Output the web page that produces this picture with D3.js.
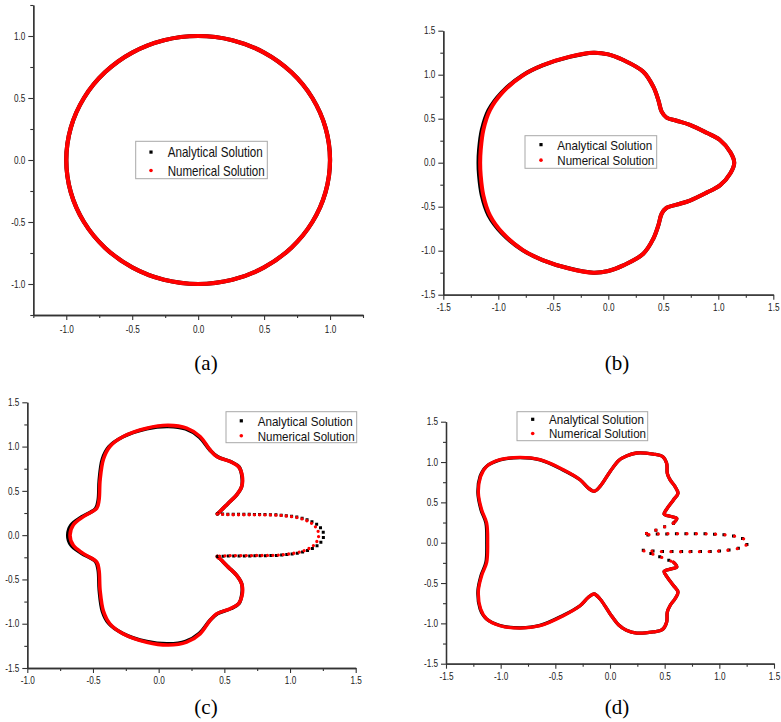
<!DOCTYPE html>
<html>
<head>
<meta charset="utf-8">
<script src="https://cdn.jsdelivr.net/npm/d3@7"></script>
<style>
  body { margin: 0; background: #fff; }
  svg { display: block; }
</style>
</head>
<body>
<svg id="fig" width="781" height="722"></svg>
<script>
// ============================================================
//  Data (x, y pairs in axis units)
// ============================================================

const seriesNames = ['Analytical Solution', 'Numerical Solution'];
const panelLabels = ['(a)', '(b)', '(c)', '(d)'];

// tick values
const ticksA = [-1.0, -0.5, 0.0, 0.5, 1.0];
const minorA = [-1.25, -0.75, -0.25, 0.25, 0.75, 1.25];
const ticksWide = [-1.5, -1.0, -0.5, 0.0, 0.5, 1.0, 1.5];
const minorWide = [-1.25, -0.75, -0.25, 0.25, 0.75, 1.25];
const ticksCx = [-1.0, -0.5, 0.0, 0.5, 1.0, 1.5];
const minorCx = [-0.75, -0.25, 0.25, 0.75, 1.25];

// (a) circle, closed
const circleNum = [
  [1.000, 0.000], [0.966, 0.259], [0.866, 0.500], [0.707, 0.707], [0.500, 0.866], [0.259, 0.966],
  [0.000, 1.000], [-0.259, 0.966], [-0.500, 0.866], [-0.707, 0.707], [-0.866, 0.500], [-0.966, 0.259],
  [-1.000, 0.000], [-0.966, -0.259], [-0.866, -0.500], [-0.707, -0.707], [-0.500, -0.866], [-0.259, -0.966],
  [0.000, -1.000], [0.259, -0.966], [0.500, -0.866], [0.707, -0.707], [0.866, -0.500], [0.966, -0.259]
];
const circleAna = [
  [1.000, 0.000], [0.966, 0.259], [0.866, 0.500], [0.707, 0.707], [0.500, 0.866], [0.259, 0.966],
  [0.000, 1.000], [-0.259, 0.966], [-0.500, 0.866], [-0.707, 0.707], [-0.866, 0.500], [-0.966, 0.259],
  [-1.000, 0.000], [-0.966, -0.259], [-0.866, -0.500], [-0.707, -0.707], [-0.500, -0.866], [-0.259, -0.966],
  [0.000, -1.000], [0.259, -0.966], [0.500, -0.866], [0.707, -0.707], [0.866, -0.500], [0.966, -0.259]
];

// (b) closed
const shapeBNum = [
  [1.145, 0.000], [1.110, 0.120], [1.015, 0.258], [0.894, 0.340], [0.742, 0.430], [0.621, 0.477],
  [0.530, 0.512], [0.485, 0.580], [0.455, 0.712], [0.409, 0.864], [0.318, 1.034], [0.136, 1.167],
  [0.000, 1.231], [-0.136, 1.250], [-0.348, 1.205], [-0.591, 1.110], [-0.773, 0.996], [-0.955, 0.807],
  [-1.076, 0.598], [-1.136, 0.371], [-1.160, 0.144], [-1.165, 0.000], [-1.160, -0.144], [-1.136, -0.371],
  [-1.076, -0.598], [-0.955, -0.807], [-0.773, -0.996], [-0.591, -1.110], [-0.348, -1.205], [-0.136, -1.250],
  [0.000, -1.231], [0.136, -1.167], [0.318, -1.034], [0.409, -0.864], [0.455, -0.712], [0.485, -0.580],
  [0.530, -0.512], [0.621, -0.477], [0.742, -0.430], [0.894, -0.340], [1.015, -0.258], [1.110, -0.120]
];
const shapeBAna = [
  [1.145, 0.000], [1.110, 0.120], [1.015, 0.258], [0.894, 0.340], [0.742, 0.430], [0.621, 0.477],
  [0.530, 0.512], [0.485, 0.580], [0.455, 0.712], [0.409, 0.864], [0.318, 1.034], [0.136, 1.167],
  [0.000, 1.231], [-0.136, 1.250], [-0.352, 1.203], [-0.598, 1.106], [-0.783, 0.990], [-0.968, 0.800],
  [-1.090, 0.594], [-1.150, 0.371], [-1.175, 0.144], [-1.180, 0.000], [-1.175, -0.144], [-1.150, -0.371],
  [-1.090, -0.594], [-0.968, -0.800], [-0.783, -0.990], [-0.598, -1.106], [-0.352, -1.203], [-0.136, -1.250],
  [0.000, -1.231], [0.136, -1.167], [0.318, -1.034], [0.409, -0.864], [0.455, -0.712], [0.485, -0.580],
  [0.530, -0.512], [0.621, -0.477], [0.742, -0.430], [0.894, -0.340], [1.015, -0.258], [1.110, -0.120]
];

// (c) dense body (upper corner -> round the left -> lower corner) and sparse tail
const bodyCNum = [
  [0.447, 0.241], [0.467, 0.267], [0.530, 0.361], [0.594, 0.455], [0.632, 0.550], [0.637, 0.662],
  [0.607, 0.775], [0.543, 0.832], [0.442, 0.888], [0.391, 0.964], [0.315, 1.114], [0.213, 1.208],
  [0.074, 1.240], [-0.091, 1.208], [-0.269, 1.114], [-0.371, 1.001], [-0.420, 0.860], [-0.446, 0.623],
  [-0.454, 0.397], [-0.471, 0.304], [-0.573, 0.209], [-0.650, 0.115], [-0.675, 0.000], [-0.650, -0.115],
  [-0.573, -0.209], [-0.471, -0.304], [-0.454, -0.397], [-0.446, -0.623], [-0.420, -0.860], [-0.371, -1.001],
  [-0.269, -1.114], [-0.091, -1.208], [0.074, -1.240], [0.213, -1.208], [0.315, -1.114], [0.391, -0.964],
  [0.442, -0.888], [0.543, -0.832], [0.607, -0.775], [0.637, -0.662], [0.632, -0.550], [0.594, -0.455],
  [0.530, -0.361], [0.467, -0.267], [0.447, -0.241]
];
const bodyCAna = [
  [0.447, 0.241], [0.467, 0.267], [0.530, 0.361], [0.594, 0.455], [0.632, 0.550], [0.634, 0.662],
  [0.612, 0.770], [0.552, 0.828], [0.450, 0.884], [0.391, 0.960], [0.310, 1.108], [0.205, 1.200],
  [0.074, 1.228], [-0.091, 1.202], [-0.275, 1.108], [-0.380, 0.996], [-0.428, 0.860], [-0.452, 0.623],
  [-0.460, 0.397], [-0.480, 0.300], [-0.588, 0.205], [-0.668, 0.112], [-0.692, 0.000], [-0.668, -0.112],
  [-0.588, -0.205], [-0.480, -0.300], [-0.460, -0.397], [-0.452, -0.623], [-0.428, -0.860], [-0.380, -0.996],
  [-0.275, -1.108], [-0.091, -1.202], [0.074, -1.228], [0.205, -1.200], [0.310, -1.108], [0.391, -0.960],
  [0.450, -0.884], [0.552, -0.828], [0.612, -0.770], [0.634, -0.662], [0.632, -0.550], [0.594, -0.455],
  [0.530, -0.361], [0.467, -0.267], [0.447, -0.241]
];
const tailCNum = [
  [0.447, 0.241], [0.518, 0.232], [0.721, 0.230], [0.949, 0.220], [1.102, 0.178], [1.180, 0.115],
  [1.212, 0.050], [1.218, 0.000], [1.212, -0.050], [1.180, -0.115], [1.102, -0.178], [0.949, -0.220],
  [0.721, -0.230], [0.518, -0.232], [0.447, -0.241]
];
const tailCAna = [
  [0.447, 0.241], [0.518, 0.236], [0.721, 0.234], [0.960, 0.222], [1.120, 0.180], [1.210, 0.115],
  [1.248, 0.050], [1.256, 0.000], [1.248, -0.050], [1.210, -0.115], [1.120, -0.180], [0.960, -0.222],
  [0.721, -0.234], [0.518, -0.236], [0.447, -0.241]
];

// (d) dense body and sparse tail
const bodyDNum = [
  [0.580, 0.241], [0.611, 0.300], [0.560, 0.325], [0.495, 0.355], [0.520, 0.420], [0.580, 0.530],
  [0.622, 0.613], [0.595, 0.695], [0.550, 0.778], [0.524, 0.860], [0.518, 0.985], [0.478, 1.072],
  [0.396, 1.099], [0.244, 1.112], [0.150, 1.075], [0.080, 1.020], [0.000, 0.880], [-0.091, 0.698],
  [-0.146, 0.636], [-0.200, 0.680], [-0.274, 0.781], [-0.427, 0.905], [-0.640, 1.029], [-0.823, 1.058],
  [-1.006, 1.029], [-1.128, 0.946], [-1.183, 0.822], [-1.204, 0.616], [-1.174, 0.409], [-1.128, 0.244],
  [-1.119, 0.000], [-1.128, -0.244], [-1.174, -0.409], [-1.204, -0.600], [-1.183, -0.822], [-1.128, -0.946],
  [-1.006, -1.029], [-0.823, -1.058], [-0.640, -1.029], [-0.427, -0.905], [-0.274, -0.781], [-0.200, -0.680],
  [-0.146, -0.636], [-0.091, -0.698], [0.000, -0.880], [0.080, -1.020], [0.150, -1.085], [0.244, -1.120],
  [0.396, -1.105], [0.478, -1.078], [0.518, -0.985], [0.524, -0.860], [0.550, -0.778], [0.595, -0.695],
  [0.622, -0.613], [0.580, -0.530], [0.520, -0.420], [0.495, -0.355], [0.560, -0.325], [0.611, -0.300],
  [0.580, -0.241]
];
const bodyDAna = [
  [0.580, 0.241], [0.611, 0.300], [0.560, 0.325], [0.495, 0.355], [0.520, 0.420], [0.580, 0.530],
  [0.622, 0.613], [0.595, 0.695], [0.550, 0.778], [0.524, 0.860], [0.518, 0.985], [0.478, 1.072],
  [0.396, 1.099], [0.244, 1.112], [0.150, 1.075], [0.080, 1.020], [0.000, 0.880], [-0.091, 0.698],
  [-0.146, 0.636], [-0.200, 0.680], [-0.274, 0.781], [-0.430, 0.902], [-0.640, 1.026], [-0.823, 1.055],
  [-1.006, 1.026], [-1.132, 0.943], [-1.188, 0.822], [-1.208, 0.616], [-1.180, 0.409], [-1.135, 0.244],
  [-1.127, 0.000], [-1.135, -0.244], [-1.180, -0.409], [-1.208, -0.600], [-1.188, -0.822], [-1.132, -0.943],
  [-1.006, -1.026], [-0.823, -1.055], [-0.640, -1.026], [-0.430, -0.902], [-0.274, -0.781], [-0.200, -0.680],
  [-0.146, -0.636], [-0.091, -0.698], [0.000, -0.880], [0.080, -1.020], [0.150, -1.085], [0.244, -1.120],
  [0.396, -1.105], [0.478, -1.078], [0.518, -0.985], [0.524, -0.860], [0.550, -0.778], [0.595, -0.695],
  [0.622, -0.613], [0.580, -0.530], [0.520, -0.420], [0.495, -0.355], [0.560, -0.325], [0.611, -0.300],
  [0.580, -0.241]
];
const tailDNum = [
  [0.580, 0.241], [0.440, 0.165], [0.305, 0.096], [0.420, 0.108], [0.700, 0.112], [0.980, 0.105],
  [1.160, 0.075], [1.240, 0.035], [1.263, 0.000], [1.240, -0.035], [1.160, -0.075], [0.980, -0.105],
  [0.700, -0.112], [0.420, -0.108], [0.305, -0.096], [0.440, -0.165], [0.580, -0.241]
];
const tailDAna = [
  [0.580, 0.241], [0.440, 0.165], [0.300, 0.094], [0.420, 0.106], [0.700, 0.110], [0.980, 0.104],
  [1.160, 0.074], [1.240, 0.035], [1.263, 0.000], [1.240, -0.035], [1.160, -0.074], [0.980, -0.104],
  [0.700, -0.110], [0.420, -0.106], [0.300, -0.094], [0.440, -0.165], [0.580, -0.241]
];

// ============================================================
//  Layout
// ============================================================

const panels = [
  {
    box: { left: 33.3, right: 363, top: 5, bottom: 315 },
    xDomain: [-1.25, 1.25], yDomain: [-1.25, 1.25],
    xTicks: ticksA, xMinor: minorA, yTicks: ticksA, yMinor: minorA,
    closed: [[circleAna, circleNum]], tails: [],
    width: 4.2, labelPos: [206, 370], padX: 6,
    legend: { x: 135.7, y: 141.3, w: 131.6, h: 37.4, rows: [157.3, 175.7], markX: 151, textX: 167.7, size: 14.5 }
  },
  {
    box: { left: 443.3, right: 773.3, top: 30.7, bottom: 294.7 },
    xDomain: [-1.5, 1.5], yDomain: [-1.5, 1.5],
    xTicks: ticksWide, xMinor: minorWide, yTicks: ticksWide, yMinor: minorWide,
    closed: [[shapeBAna, shapeBNum]], tails: [],
    width: 4.0, labelPos: [617, 370], padX: 4,
    legend: { x: 525, y: 135.7, w: 131.7, h: 32.6, rows: [149.5, 165], markX: 541, textX: 557.3, size: 13.5 }
  },
  {
    box: { left: 27.3, right: 355.7, top: 402.3, bottom: 668 },
    xDomain: [-1.0, 1.5], yDomain: [-1.5, 1.5],
    xTicks: ticksCx, xMinor: minorCx, yTicks: ticksWide, yMinor: minorWide,
    open: [[bodyCAna, bodyCNum]], tails: [[tailCAna, tailCNum]],
    width: 3.6, gap: 5.3, labelPos: [206, 714], padX: 4,
    legend: { x: 226, y: 411.7, w: 130.7, h: 31, rows: [425.5, 440.5], markX: 241.3, textX: 257.7, size: 13 }
  },
  {
    box: { left: 446, right: 774, top: 421.7, bottom: 663.7 },
    xDomain: [-1.5, 1.5], yDomain: [-1.5, 1.5],
    xTicks: ticksWide, xMinor: minorWide, yTicks: ticksWide, yMinor: minorWide,
    open: [[bodyDAna, bodyDNum]], tails: [[tailDAna, tailDNum]],
    width: 3.3, gap: 9.5, labelPos: [617, 714], padX: 4,
    legend: { x: 517, y: 411.7, w: 130.7, h: 29, rows: [423.8, 438], markX: 532.7, textX: 549, size: 12.5 }
  }
];

const svg = d3.select('#fig');
const squeeze = 0.82;   // the source figure's text is horizontally condensed
const fmt = d => d.toFixed(1);

function squeezeText(sel) {
  sel.selectAll('.tick text').each(function () {
    const t = d3.select(this);
    const x = +t.attr('x') || 0;
    t.attr('x', x / squeeze).attr('transform', `scale(${squeeze},1)`);
  });
}

function drawPanel(p, idx) {
  const g = svg.append('g');
  const x = d3.scaleLinear().domain(p.xDomain).range([p.box.left, p.box.right]);
  const y = d3.scaleLinear().domain(p.yDomain).range([p.box.bottom, p.box.top]);

  const closedLine = d3.line().x(d => x(d[0])).y(d => y(d[1])).curve(d3.curveCatmullRomClosed.alpha(0.5));
  const openLine = d3.line().x(d => x(d[0])).y(d => y(d[1])).curve(d3.curveCatmullRom.alpha(0.5));

  const colors = ['#000', '#f00'];

  // dense parts of the curves: analytical underneath, numerical on top
  (p.closed || []).forEach(pair => pair.forEach((pts, k) => {
    g.append('path').datum(pts).attr('d', closedLine)
      .attr('fill', 'none').attr('stroke', colors[k]).attr('stroke-width', p.width)
      .attr('stroke-linejoin', 'round');
  }));
  (p.open || []).forEach(pair => pair.forEach((pts, k) => {
    g.append('path').datum(pts).attr('d', openLine)
      .attr('fill', 'none').attr('stroke', colors[k]).attr('stroke-width', p.width)
      .attr('stroke-linejoin', 'round').attr('stroke-linecap', 'round');
  }));
  // sparse parts: the individual scatter points show
  p.tails.forEach(pair => pair.forEach((pts, k) => {
    g.append('path').datum(pts).attr('d', openLine)
      .attr('fill', 'none').attr('stroke', colors[k])
      .attr('stroke-width', k === 0 ? 3 : 3.3)
      .attr('stroke-linecap', k === 0 ? 'square' : 'round')
      .attr('stroke-dasharray', `0 ${p.gap}`);
  }));

  // axes
  const axisColor = '#333';
  const styleAxis = a => {
    a.select('.domain').attr('stroke', axisColor).attr('stroke-width', 1.3);
    a.selectAll('.tick line').attr('stroke', axisColor).attr('stroke-width', 1.1);
    a.selectAll('.tick text').attr('fill', '#222');
  };

  const xAxisG = g.append('g').attr('transform', `translate(0,${p.box.bottom})`)
    .attr('font-family', 'Liberation Sans, Arial, sans-serif').attr('font-size', 11.5)
    .call(d3.axisBottom(x).tickValues(p.xTicks).tickFormat(fmt).tickSize(5).tickSizeOuter(0).tickPadding(p.padX));
  g.append('g').attr('transform', `translate(0,${p.box.bottom})`)
    .call(d3.axisBottom(x).tickValues(p.xMinor).tickFormat('').tickSize(3).tickSizeOuter(0))
    .call(styleAxis);
  xAxisG.call(styleAxis);
  squeezeText(xAxisG);

  const yAxisG = g.append('g').attr('transform', `translate(${p.box.left},0)`)
    .attr('font-family', 'Liberation Sans, Arial, sans-serif').attr('font-size', 11.5)
    .call(d3.axisLeft(y).tickValues(p.yTicks).tickFormat(fmt).tickSize(5).tickSizeOuter(0).tickPadding(3));
  g.append('g').attr('transform', `translate(${p.box.left},0)`)
    .call(d3.axisLeft(y).tickValues(p.yMinor).tickFormat('').tickSize(3).tickSizeOuter(0))
    .call(styleAxis);
  yAxisG.call(styleAxis);
  squeezeText(yAxisG);

  // legend
  const L = p.legend;
  const lg = g.append('g');
  lg.append('rect').attr('x', L.x).attr('y', L.y).attr('width', L.w).attr('height', L.h)
    .attr('fill', '#fff').attr('stroke', '#a8a8a8').attr('stroke-width', 1);
  seriesNames.forEach((name, k) => {
    const cy = L.rows[k] - L.size * 0.36;
    if (k === 0) {
      lg.append('rect').attr('x', L.markX - 1.6).attr('y', cy - 1.6)
        .attr('width', 3.2).attr('height', 3.2).attr('fill', '#000');
    } else {
      lg.append('circle').attr('cx', L.markX).attr('cy', cy).attr('r', 1.8).attr('fill', '#f00');
    }
    lg.append('text').attr('x', L.textX).attr('y', L.rows[k])
      .attr('font-family', 'Liberation Sans, Arial, sans-serif').attr('font-size', L.size)
      .attr('fill', '#111')
      .attr('textLength', k === 0 ? 95 : 97).attr('lengthAdjust', 'spacingAndGlyphs')
      .text(name);
  });

  // panel caption
  g.append('text').attr('x', p.labelPos[0]).attr('y', p.labelPos[1])
    .attr('text-anchor', 'middle')
    .attr('font-family', 'Liberation Serif, Times New Roman, serif').attr('font-size', 21)
    .attr('fill', '#000')
    .text(panelLabels[idx]);
}

panels.forEach(drawPanel);
</script>
</body>
</html>
